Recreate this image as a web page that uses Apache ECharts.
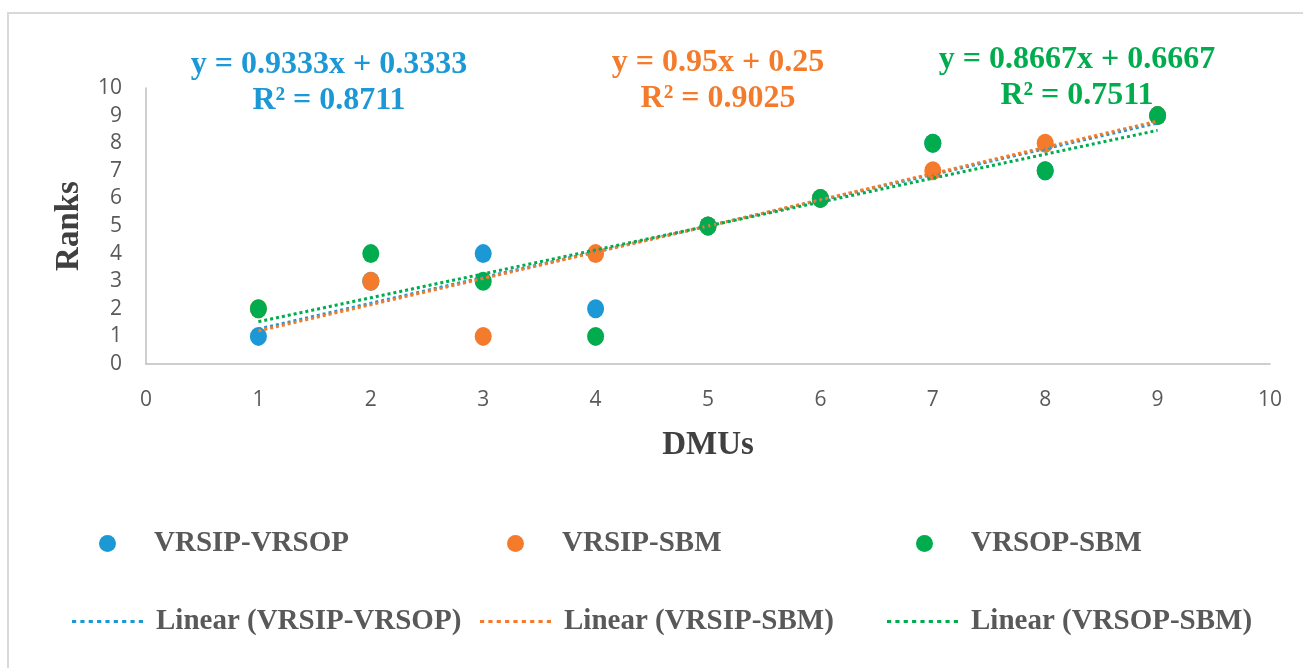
<!DOCTYPE html>
<html>
<head>
<meta charset="utf-8">
<title>Ranks vs DMUs</title>
<script src="https://cdn.jsdelivr.net/npm/echarts@6/dist/echarts.min.js"></script>
<style>
  html, body { margin: 0; padding: 0; background: #fff; }
  #chart { width: 1303px; height: 668px; }
</style>
</head>
<body>
<div id="chart"></div>
<script>
// data
const dmus = [1, 2, 3, 4, 5, 6, 7, 8, 9]
const vrsipVrsop = [1, 3, 4, 2, 5, 6, 8, 7, 9]
const vrsipSbm = [2, 3, 1, 4, 5, 6, 7, 8, 9]
const vrsopSbm = [2, 4, 3, 1, 5, 6, 8, 7, 9]
const seriesNames = ['VRSIP-VRSOP', 'VRSIP-SBM', 'VRSOP-SBM']
const colors = ['#1b98d5', '#f47b2c', '#00ac4e']

const serif = '"Liberation Serif", "Times New Roman", serif'
const sans = '"Open Sans", "Liberation Sans", sans-serif'
const grey = '#595959'

// least squares fit, like excel's linear trendline
function fit(xs, ys) {
  const n = xs.length
  const mx = xs.reduce((a, b) => a + b, 0) / n
  const my = ys.reduce((a, b) => a + b, 0) / n
  let sxy = 0, sxx = 0, syy = 0
  for (let i = 0; i < n; i++) {
    sxy += (xs[i] - mx) * (ys[i] - my)
    sxx += (xs[i] - mx) ** 2
    syy += (ys[i] - my) ** 2
  }
  const slope = sxy / sxx
  return { slope, intercept: my - slope * mx, r2: (sxy * sxy) / (sxx * syy) }
}

const allY = [vrsipVrsop, vrsipSbm, vrsopSbm]
const fits = allY.map(ys => fit(dmus, ys))
const xLo = Math.min(...dmus)
const xHi = Math.max(...dmus)
const num = v => String(parseFloat(v.toFixed(4)))

const chart = echarts.init(document.getElementById('chart'))

const scatterSeries = allY.map((ys, i) => ({
  name: seriesNames[i],
  type: 'scatter',
  data: dmus.map((x, j) => [x, ys[j]]),
  symbol: 'circle',
  symbolSize: [17, 19],
  itemStyle: { color: colors[i], opacity: 1 },
  z: 2 + i
}))

const trendSeries = fits.map((f, i) => ({
  name: 'Linear (' + seriesNames[i] + ')',
  type: 'line',
  data: [[xLo, f.slope * xLo + f.intercept], [xHi, f.slope * xHi + f.intercept]],
  symbol: 'none',
  silent: true,
  lineStyle: { color: colors[i], width: 3, type: [3, 3] },
  itemStyle: { color: colors[i] },
  z: 6 + i
}))

// equation labels (centre x, top y)
const eqPos = [[329, 47], [718, 45], [1077, 42]]
const eqGraphics = fits.map((f, i) => ({
  type: 'text',
  x: eqPos[i][0],
  y: eqPos[i][1],
  style: {
    text: 'y = ' + num(f.slope) + 'x + ' + num(f.intercept) + '\nR² = ' + num(f.r2),
    fill: colors[i],
    font: 'bold 32px ' + serif,
    align: 'center',
    verticalAlign: 'top',
    lineHeight: 36
  }
}))

// nine little squares = dotted line icon
const dotIcon = 'path://' + Array.from({ length: 9 }, (_, k) => 'M' + (k * 8) + ',0h4v4h-4z').join(' ')

const legendText = { color: grey, fontFamily: serif, fontWeight: 'bold', fontSize: 29 }
const markerLeft = [99, 507, 916]
const lineLeft = [72, 480, 887]
const legends = []
seriesNames.forEach((name, i) => {
  legends.push({
    data: [name],
    left: markerLeft[i], top: 529,
    padding: 0,
    icon: 'circle',
    symbolKeepAspect: false,
    itemWidth: 17, itemHeight: 21,
    selectedMode: false,
    formatter: '{s|}{name}',
    textStyle: Object.assign({ rich: { s: { width: 33 } } }, legendText)
  })
  legends.push({
    data: ['Linear (' + name + ')'],
    left: lineLeft[i], top: 607,
    padding: 0,
    icon: dotIcon,
    symbolKeepAspect: false,
    itemWidth: 71, itemHeight: 3,
    itemStyle: { color: colors[i], borderWidth: 0 },
    selectedMode: false,
    formatter: '{s|}{name}',
    textStyle: Object.assign({ rich: { s: { width: 8 } } }, legendText)
  })
})

const axisCommon = {
  type: 'value',
  min: 0, max: 10, interval: 1,
  nameLocation: 'middle',
  nameTextStyle: { color: '#404040', fontFamily: serif, fontWeight: 'bold', fontSize: 33 },
  axisLine: { show: true, onZero: false, lineStyle: { color: '#bfbfbf', width: 1.5 } },
  axisTick: { show: false },
  splitLine: { show: false },
  axisLabel: { color: grey, fontFamily: sans, fontSize: 21 }
}

chart.setOption({
  animation: false,
  backgroundColor: '#fff',
  grid: { left: 146, right: 33, top: 88, bottom: 304 },
  legend: legends,
  xAxis: Object.assign({}, axisCommon, {
    name: 'DMUs',
    nameGap: 65,
    axisLabel: Object.assign({}, axisCommon.axisLabel, { margin: 26 })
  }),
  yAxis: Object.assign({}, axisCommon, {
    name: 'Ranks',
    nameGap: 60,
    axisLabel: Object.assign({}, axisCommon.axisLabel, { margin: 24 })
  }),
  graphic: [
    {
      type: 'rect',
      x: 8,
      y: 13,
      shape: { width: 1320, height: 700 },
      style: { fill: 'none', stroke: '#d9d9d9', lineWidth: 2 },
      silent: true,
      z: -1
    }
  ].concat(eqGraphics),
  series: scatterSeries.concat(trendSeries)
})
</script>
</body>
</html>
